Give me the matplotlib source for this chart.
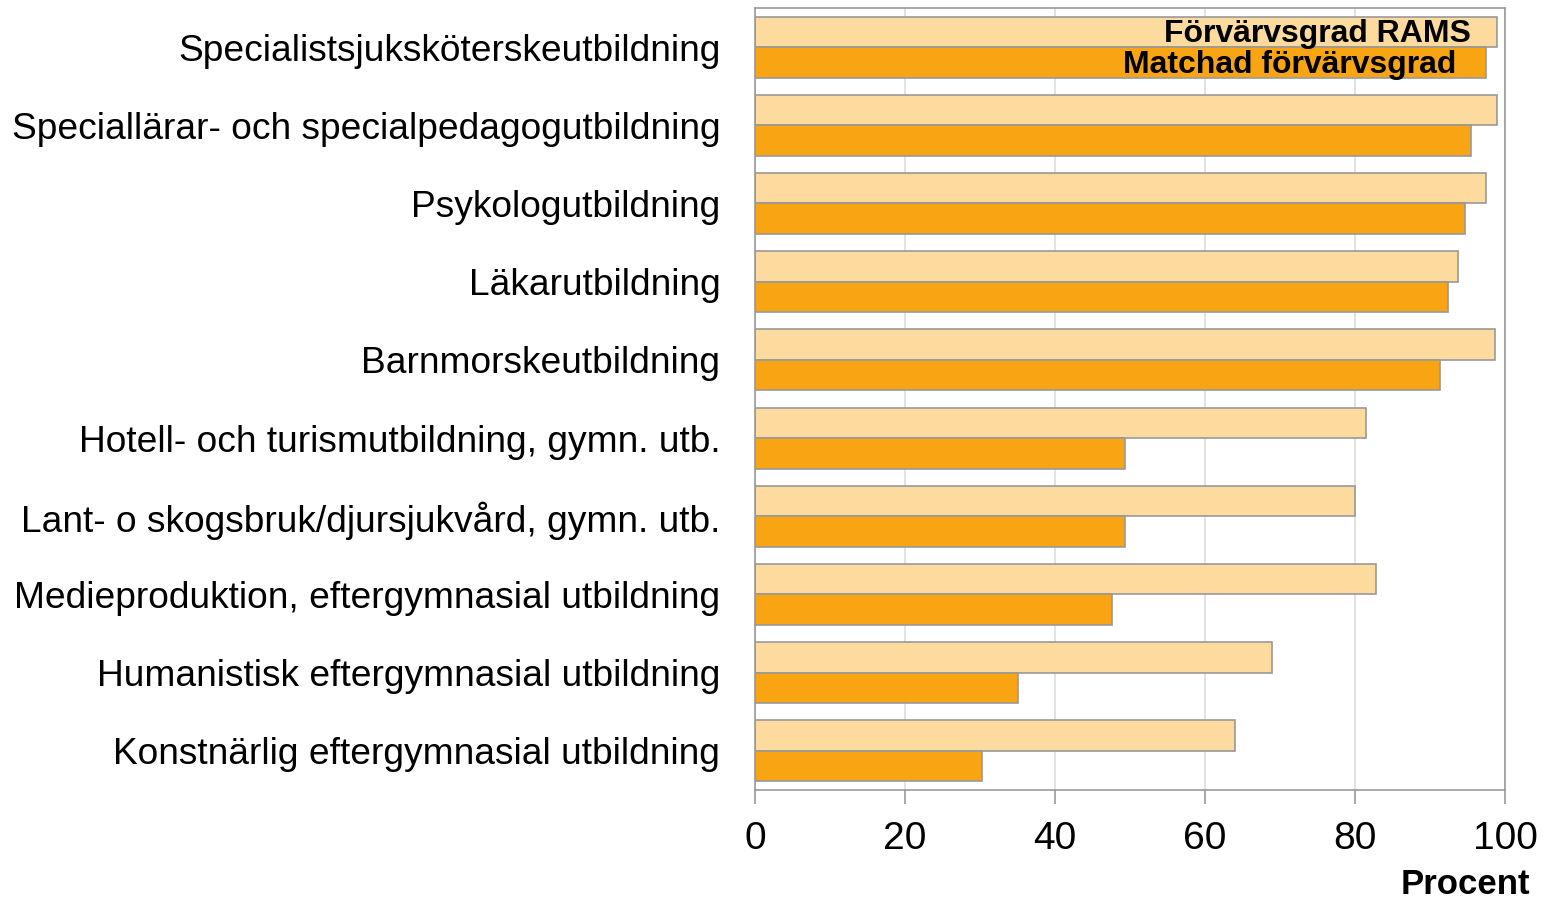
import matplotlib
matplotlib.use("Agg")
import matplotlib.pyplot as plt
import numpy as np

categories = [
    "Specialistsjuksköterskeutbildning",
    "Speciallärar- och specialpedagogutbildning",
    "Psykologutbildning",
    "Läkarutbildning",
    "Barnmorskeutbildning",
    "Hotell- och turismutbildning, gymn. utb.",
    "Lant- o skogsbruk/djursjukvård, gymn. utb.",
    "Medieproduktion, eftergymnasial utbildning",
    "Humanistisk eftergymnasial utbildning",
    "Konstnärlig eftergymnasial utbildning",
]
rams = [98.9, 98.9, 97.5, 93.7, 98.7, 81.4, 80.0, 82.8, 68.9, 64.0]
matchad = [97.5, 95.5, 94.7, 92.4, 91.3, 49.3, 49.3, 47.6, 35.1, 30.3]
xticks = [0, 20, 40, 60, 80, 100]

plt.rcParams["font.family"] = ["Liberation Sans", "DejaVu Sans"]

fig = plt.figure(figsize=(15.52, 9.01), dpi=100)
ax = fig.add_axes([755 / 1552, 1 - 790 / 901, 750 / 1552, 782 / 901])

y = np.arange(len(categories))
h = 0.39
ax.barh(y - h / 2, rams, height=h, color="#FDDA9E", edgecolor="#999999", linewidth=1.2, zorder=2)
ax.barh(y + h / 2, matchad, height=h, color="#F9A513", edgecolor="#999999", linewidth=1.2, zorder=2)

ax.set_ylim(len(categories) - 0.5, -0.5)
ax.set_xlim(0, 100)
ax.set_yticks(y)
ax.set_yticklabels(categories, fontsize=26.7)
ax.tick_params(axis="y", length=0, pad=25)
ax.set_xticks(xticks)
ax.set_xticklabels([str(t) for t in xticks], fontsize=28)
ax.tick_params(axis="x", length=10, width=1.2, color="#999999", pad=12, direction="out")
ax.grid(axis="x", color="#dddddd", linewidth=1.2, zorder=0)
for s in ax.spines.values():
    s.set_color("#999999")
    s.set_linewidth(1.2)

# legend texts sit inside the first pair of bars
ax.text(95.5, -h / 2 + 0.03, "Förvärvsgrad RAMS", fontsize=23, fontweight="bold", ha="right", va="center", zorder=3)
ax.text(93.5, h / 2 + 0.04, "Matchad förvärvsgrad", fontsize=23, fontweight="bold", ha="right", va="center", zorder=3)
fig.text(1530 / 1552, 1 - 884 / 901, "Procent", fontsize=25, fontweight="bold", ha="right", va="center")

fig.savefig("out.png", dpi=100)
